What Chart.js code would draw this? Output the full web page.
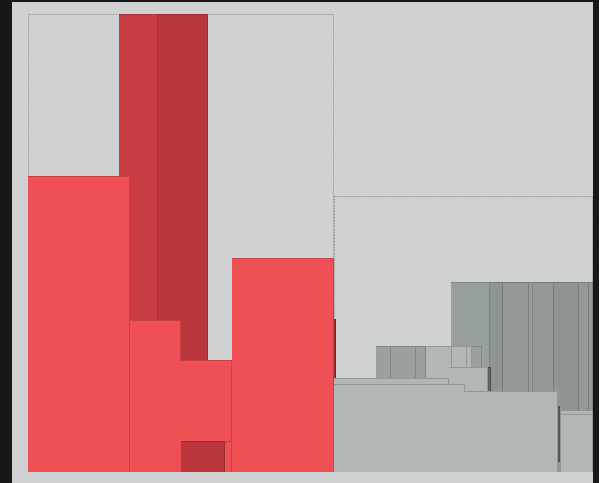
<!DOCTYPE html>
<html>
<head>
<meta charset="utf-8">
<script src="https://cdn.jsdelivr.net/npm/chart.js@4.4.1/dist/chart.umd.min.js"></script>
<style>
html, body { margin: 0; padding: 0; background: #171717; }
body { width: 599px; height: 483px; overflow: hidden; position: relative; }
#wrap { position: absolute; left: 12px; top: 2px; width: 581px; height: 481px; background: #d0d1d3; }
</style>
</head>
<body>
<div id="wrap"><canvas id="tileChart" width="581" height="481"></canvas></div>
<script>
//tile data (chart units), in drawing order
const tileX0 = [91, 130, 0, 102, 152, 153, 153, 204, 306,
    423, 462, 475, 501, 505, 526, 551, 561,
    348, 363, 388, 398, 424, 439, 444,
    306, 421, 460, 306, 306, 530, 533, 533];
const tileX1 = [130, 180, 102, 153, 204, 204, 197, 306, 308,
    462, 475, 501, 505, 526, 551, 561, 565,
    363, 388, 398, 424, 439, 444, 454,
    421, 460, 463, 530, 437, 532, 565, 565];
const tileY0 = [0, 112, 0, 0, 0, 0, 0, 0, 88,
    0, 0, 0, 0, 0, 0, 0, 0,
    0, 0, 0, 0, 0, 0, 0,
    0, 0, 0, 0, 80, 10, 0, 0];
const tileY1 = [458, 458, 296, 152, 112, 31, 31, 214, 153,
    190, 190, 190, 190, 190, 190, 190, 190,
    126, 126, 126, 126, 126, 126, 126,
    94, 105, 105, 81, 88, 66, 62, 58];
const tileShade = ['redMid', 'redDark', 'red', 'red', 'red', 'red', 'redDark', 'red', 'redDeep',
    'grayA', 'grayB', 'grayC', 'grayD', 'grayC', 'grayB', 'grayC', 'grayC',
    'grayM', 'grayM', 'grayM', 'grayL', 'grayL', 'grayL', 'grayM',
    'grayL', 'grayL', 'grayDeep', 'grayL', 'grayL', 'grayDeep', 'grayL', 'grayL'];

//group outlines
const groupX0 = [0, 306];
const groupX1 = [306, 565];
const groupY0 = [0, 0];
const groupY1 = [458, 276];

const shadeColors = {
    red: '#ef5056',
    redMid: '#c83d43',
    redDark: '#b9363c',
    redDeep: '#9b2c31',
    grayA: '#98a09c',
    grayB: '#8f9692',
    grayC: '#939996',
    grayD: '#979d9a',
    grayM: '#9aa09c',
    grayL: '#b3b7b3',
    grayDeep: '#5b6461'
};

//draws the tiles through the chart scales
const tilePlugin = {
    id: 'tiles',
    beforeDatasetsDraw(chart) {
        const ctx = chart.ctx;
        const x = chart.scales.x;
        const y = chart.scales.y;
        ctx.save();
        ctx.lineWidth = 1;

        // group borders
        ctx.setLineDash([2, 1]);
        ctx.strokeStyle = '#9d9ea0';
        for (let g = 0; g < groupX0.length; g++) {
            const l = x.getPixelForValue(groupX0[g]);
            const r = x.getPixelForValue(groupX1[g]);
            const t = y.getPixelForValue(groupY1[g]);
            const b = y.getPixelForValue(groupY0[g]);
            ctx.strokeRect(l + 0.5, t + 0.5, r - l - 1, b - t - 1);
        }
        ctx.setLineDash([]);

        // tiles, edge on top and right side
        for (let i = 0; i < tileX0.length; i++) {
            const l = x.getPixelForValue(tileX0[i]);
            const r = x.getPixelForValue(tileX1[i]);
            const t = y.getPixelForValue(tileY1[i]);
            const b = y.getPixelForValue(tileY0[i]);
            ctx.fillStyle = shadeColors[tileShade[i]];
            ctx.fillRect(l, t, r - l, b - t);
            ctx.strokeStyle = 'rgba(0,0,0,0.17)';
            ctx.beginPath();
            ctx.moveTo(l, t + 0.5);
            ctx.lineTo(r - 0.5, t + 0.5);
            ctx.lineTo(r - 0.5, b);
            ctx.stroke();
        }
        ctx.restore();
    }
};

const tileChartMaster = () => {
    var ctx = document.getElementById('tileChart').getContext('2d');
    var chart = new Chart(ctx, {
        type: 'scatter',
        data: {
            datasets: [{
                data: tileX0.map((v, i) => ({ x: (v + tileX1[i]) / 2, y: (tileY0[i] + tileY1[i]) / 2 })),
                pointRadius: 0,
                pointHoverRadius: 0
            }]
        },
        options: {
            responsive: false,
            animation: false,
            devicePixelRatio: 1,
            events: [],
            layout: {
                padding: { left: 16, right: 0, top: 12, bottom: 11 }
            },
            scales: {
                x: { type: 'linear', min: 0, max: 565, display: false },
                y: { type: 'linear', min: 0, max: 458, display: false }
            },
            plugins: {
                legend: { display: false },
                tooltip: { enabled: false }
            }
        },
        plugins: [tilePlugin]
    });
};
tileChartMaster()
</script>
</body>
</html>
